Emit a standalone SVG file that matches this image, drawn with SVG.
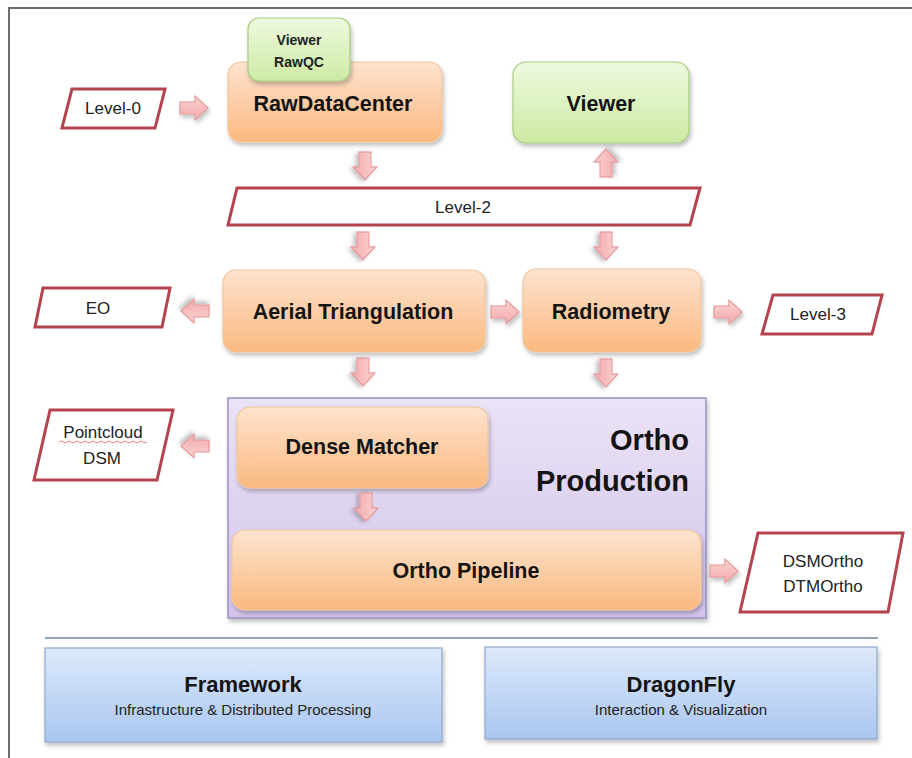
<svg xmlns="http://www.w3.org/2000/svg" width="912" height="758" viewBox="0 0 912 758">
<defs>
<linearGradient id="gOrange" x1="0" y1="0" x2="0" y2="1"><stop offset="0" stop-color="#fde3cf"/><stop offset="1" stop-color="#fbb97f"/></linearGradient>
<linearGradient id="gGreen" x1="0" y1="0" x2="0" y2="1"><stop offset="0" stop-color="#eef9df"/><stop offset="1" stop-color="#cdeaa4"/></linearGradient>
<linearGradient id="gBlue" x1="0" y1="0" x2="0" y2="1"><stop offset="0" stop-color="#dde9fb"/><stop offset="1" stop-color="#a9c6ef"/></linearGradient>
<linearGradient id="gPurple" x1="0" y1="0" x2="0" y2="1"><stop offset="0" stop-color="#ebe3f6"/><stop offset="1" stop-color="#d2c4ea"/></linearGradient>
<linearGradient id="gArrow" x1="0" y1="0" x2="0" y2="1"><stop offset="0" stop-color="#fbd3d3"/><stop offset="1" stop-color="#f2a9aa"/></linearGradient>
<filter id="sh" x="-10%" y="-10%" width="125%" height="135%"><feDropShadow dx="1.5" dy="3" stdDeviation="2" flood-color="#000" flood-opacity="0.25"/></filter>
<path id="arr" d="M-14,-6 H1 V-12 L14,0 L1,12 V6 H-14 Z"/>
</defs>
<style>
.orange{fill:url(#gOrange);stroke:#f2c6a0;stroke-width:1.2;filter:url(#sh)}
.green{fill:url(#gGreen);stroke:#a8cc84;stroke-width:1.2;filter:url(#sh)}
.blue{fill:url(#gBlue);stroke:#8ea9cf;stroke-width:1.2;filter:url(#sh)}
.purple{fill:url(#gPurple);stroke:#9d90c4;stroke-width:1.5;filter:url(#sh)}
.data{fill:#ffffff;stroke:#b4434e;stroke-width:3;stroke-linejoin:miter}
.arrow{fill:url(#gArrow);stroke:#e39a9c;stroke-width:1.2;filter:url(#sh)}
.big{font-family:"Liberation Sans",Arial,sans-serif;font-weight:bold;font-size:21.5px;fill:#141414;text-anchor:middle}
.lbl{font-family:"Liberation Sans",Arial,sans-serif;font-size:17px;fill:#222;text-anchor:middle}
.small{font-family:"Liberation Sans",Arial,sans-serif;font-weight:bold;font-size:14px;fill:#222;text-anchor:middle}
.sub{font-family:"Liberation Sans",Arial,sans-serif;font-size:15px;fill:#222;text-anchor:middle}
</style>
<rect x="0" y="0" width="912" height="758" fill="#ffffff"/>
<path d="M9,758 V8 H912" fill="none" stroke="#6d6d6d" stroke-width="2"/>

<g id="ortho-production">
<rect class="purple" x="228" y="398" width="478" height="220"/>
<text class="big" style="font-size:29px;text-anchor:end" x="689" y="450">Ortho</text>
<text class="big" style="font-size:29px;text-anchor:end" x="689" y="491">Production</text>
</g>

<g id="rawdatacenter">
<rect class="orange" x="228" y="62" width="214" height="80" rx="13"/>
<text class="big" x="333" y="111">RawDataCenter</text>
</g>
<g id="viewer-rawqc">
<rect class="green" x="248" y="18" width="102" height="63" rx="11"/>
<text class="small" x="299" y="45">Viewer</text>
<text class="small" x="299" y="67">RawQC</text>
</g>
<g id="viewer">
<rect class="green" x="513" y="62" width="176" height="81" rx="13"/>
<text class="big" x="601" y="111">Viewer</text>
</g>
<g id="level-0">
<polygon class="data" points="72,89 165,89 155,128 62,128"/>
<text class="lbl" x="113" y="114">Level-0</text>
</g>
<g id="level-2">
<polygon class="data" points="237,188 700,188 690,225 228,225"/>
<text class="lbl" x="463" y="213">Level-2</text>
</g>
<g id="aerial-triangulation">
<rect class="orange" x="223" y="270" width="262" height="82" rx="13"/>
<text class="big" x="353" y="319">Aerial Triangulation</text>
</g>
<g id="radiometry">
<rect class="orange" x="523" y="269" width="178" height="83" rx="13"/>
<text class="big" x="611" y="319">Radiometry</text>
</g>
<g id="eo">
<polygon class="data" points="43,288 170,288 162,327 35,327"/>
<text class="lbl" x="98" y="314">EO</text>
</g>
<g id="level-3">
<polygon class="data" points="773,295 882,295 872,334 762,334"/>
<text class="lbl" x="818" y="320">Level-3</text>
</g>
<g id="dense-matcher">
<rect class="orange" x="237" y="407" width="251" height="81" rx="13"/>
<text class="big" x="362" y="454">Dense Matcher</text>
</g>
<g id="ortho-pipeline">
<rect class="orange" x="232" y="530" width="469" height="80" rx="13"/>
<text class="big" x="466" y="578">Ortho Pipeline</text>
</g>
<g id="pointcloud-dsm">
<polygon class="data" points="50,410 173,410 157,480 34,480"/>
<text class="lbl" x="103" y="438">Pointcloud</text>
<path d="M59,442 q2,-2 4,0 t4,0 t4,0 t4,0 t4,0 t4,0 t4,0 t4,0 t4,0 t4,0 t4,0 t4,0 t4,0 t4,0 t4,0 t4,0 t4,0 t4,0 t4,0 t4,0 t4,0 t4,0" fill="none" stroke="#e05a5a" stroke-width="0.8"/>
<text class="lbl" x="102" y="464">DSM</text>
</g>
<g id="dsmortho-dtmortho">
<polygon class="data" points="758,533 903,533 888,612 740,612"/>
<text class="lbl" x="823" y="567">DSMOrtho</text>
<text class="lbl" x="823" y="592">DTMOrtho</text>
</g>

<line x1="45" y1="638" x2="878" y2="638" stroke="#8ea6bb" stroke-width="2"/>
<g id="framework">
<rect class="blue" x="45" y="648" width="397" height="94"/>
<text class="big" style="font-size:22px" x="243" y="692">Framework</text>
<text class="sub" x="243" y="715">Infrastructure &amp; Distributed Processing</text>
</g>
<g id="dragonfly">
<rect class="blue" x="485" y="647" width="392" height="92"/>
<text class="big" style="font-size:22px" x="681" y="692">DragonFly</text>
<text class="sub" x="681" y="715">Interaction &amp; Visualization</text>
</g>

<g id="connectors">
<use href="#arr" class="arrow" transform="translate(194,108)"/>
<use href="#arr" class="arrow" transform="translate(365,166) rotate(90)"/>
<use href="#arr" class="arrow" transform="translate(606,163) rotate(-90)"/>
<use href="#arr" class="arrow" transform="translate(363,246) rotate(90)"/>
<use href="#arr" class="arrow" transform="translate(606,246) rotate(90)"/>
<use href="#arr" class="arrow" transform="translate(195,311) rotate(180)"/>
<use href="#arr" class="arrow" transform="translate(505,312)"/>
<use href="#arr" class="arrow" transform="translate(728,312)"/>
<use href="#arr" class="arrow" transform="translate(363,372) rotate(90)"/>
<use href="#arr" class="arrow" transform="translate(606,373) rotate(90)"/>
<use href="#arr" class="arrow" transform="translate(195,446) rotate(180)"/>
<use href="#arr" class="arrow" transform="translate(366,507) rotate(90)"/>
<use href="#arr" class="arrow" transform="translate(724,571)"/>
</g>
</svg>
